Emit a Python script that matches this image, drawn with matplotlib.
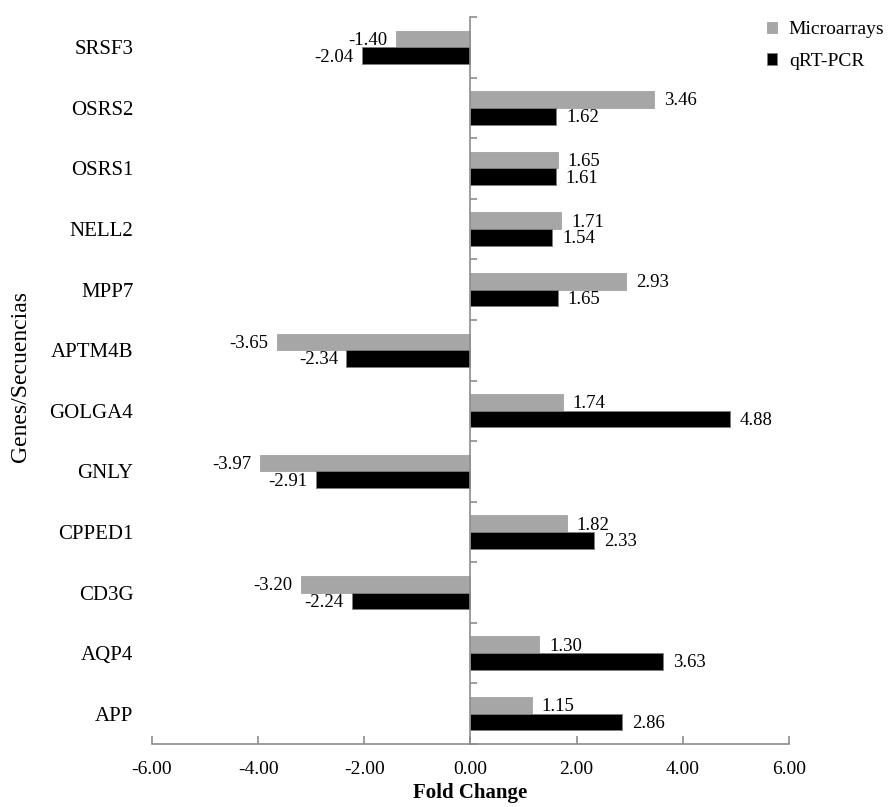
import numpy as np
import matplotlib
matplotlib.use('Agg')
import matplotlib.pyplot as plt

# genes, from bottom to top
genes = ['APP', 'AQP4', 'CD3G', 'CPPED1', 'GNLY', 'GOLGA4',
         'APTM4B', 'MPP7', 'NELL2', 'OSRS1', 'OSRS2', 'SRSF3']
microarrays = [1.15, 1.30, -3.20, 1.82, -3.97, 1.74,
               -3.65, 2.93, 1.71, 1.65, 3.46, -1.40]
qrt_pcr = [2.86, 3.63, -2.24, 2.33, -2.91, 4.88,
           -2.34, 1.65, 1.54, 1.61, 1.62, -2.04]
x_ticks = [-6, -4, -2, 0, 2, 4, 6]

plt.rcParams['font.family'] = ['Liberation Serif', 'DejaVu Serif']

fig = plt.figure(figsize=(8.91, 8.07), dpi=100)
ax = fig.add_axes([0.1706, 0.0781, 0.7149, 0.9008])

y = np.arange(len(genes))
h = 0.275
gray = '#a6a6a6'
b1 = ax.barh(y + h / 2, microarrays, height=h, color=gray,
             edgecolor='#999999', linewidth=0.5, label='Microarrays')
b2 = ax.barh(y - h / 2, qrt_pcr, height=h, color='black',
             edgecolor='#7f7f7f', linewidth=0.6, label='qRT-PCR')

# etiquetas de valores
for bars, vals in ((b1, microarrays), (b2, qrt_pcr)):
    for bar, v in zip(bars, vals):
        yc = bar.get_y() + bar.get_height() / 2
        dx = 7 if v > 0 else -6
        ax.annotate('%.2f' % v, (v, yc), xytext=(dx, -1),
                    textcoords='offset points', fontsize=13.5,
                    ha='left' if v > 0 else 'right', va='center')

ax.set_xlim(-6, 6)
ax.set_ylim(-0.5, len(genes) - 0.5)
ax.set_xticks(x_ticks)
ax.set_xticklabels(['%.2f' % t for t in x_ticks])
ax.set_yticks(y)
ax.set_yticklabels(genes)
ax.set_yticks(np.arange(-0.5, len(genes), 1), minor=True)

line_c = '#8c8c8c'
for s in ('top', 'left'):
    ax.spines[s].set_visible(False)
ax.spines['right'].set_position(('data', 0))
ax.spines['right'].set_color(line_c)
ax.spines['right'].set_linewidth(1.2)
ax.spines['bottom'].set_color(line_c)
ax.spines['bottom'].set_linewidth(1.2)

ax.tick_params(axis='y', which='major', left=False, right=False,
               labelleft=True, labelright=False, pad=10, labelsize=15)
ax.tick_params(axis='y', which='minor', left=False, right=True,
               direction='out', length=5, color=line_c, width=1.2)
ax.tick_params(axis='x', which='major', direction='in', length=6,
               color=line_c, width=1.2, pad=12, labelsize=14)

ax.set_xlabel('Fold Change', fontsize=15, fontweight='bold', labelpad=4)
fig.text(21 / 891, 0.534, 'Genes/Secuencias', rotation=90, fontsize=17,
         ha='center', va='center')

fig.legend(handles=[b1, b2], loc='upper left',
           bbox_to_anchor=(749 / 891, 1 - 4 / 807), frameon=False,
           fontsize=14, handlelength=0.55, handleheight=0.55,
           handletextpad=0.6, labelspacing=0.75)

plt.savefig('out.png', dpi=100)
